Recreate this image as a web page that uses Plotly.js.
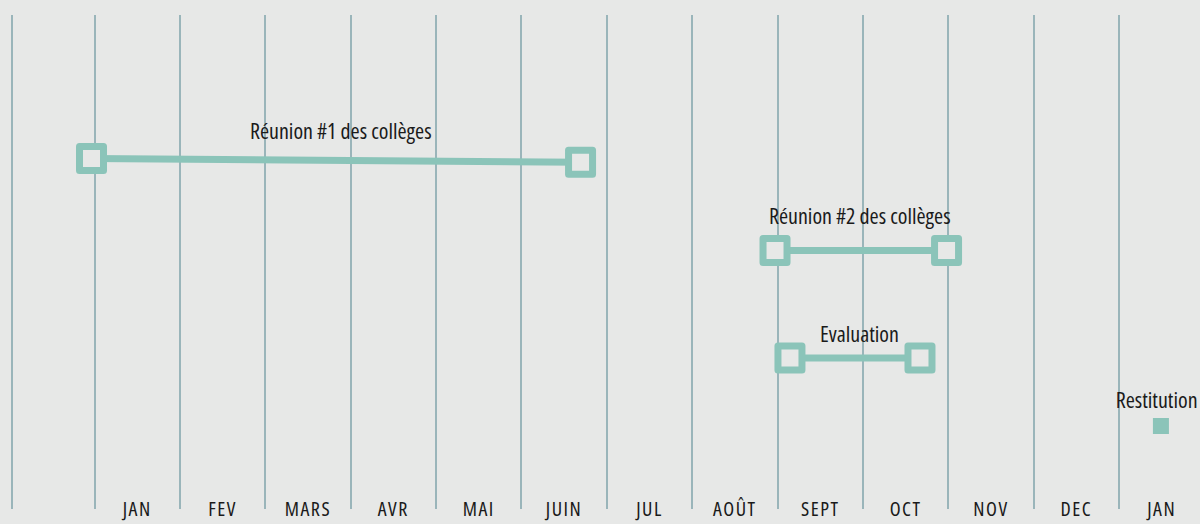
<!DOCTYPE html>
<html>
<head>
<meta charset="utf-8">
<script src="https://cdn.plot.ly/plotly-3.0.1.min.js"></script>
<style>
html,body{margin:0;padding:0;background:#e7e8e7;}
#chart{width:1200px;height:524px;}
#chart text.annotation-text, #chart .x2tick text{font-stretch:condensed;}
#chart .x2tick text{letter-spacing:1.5px;}
#chart .scatterlayer path.point{stroke-linejoin:round;}
</style>
</head>
<body>
<div id="chart"></div>
<script>
// month boundaries (0 = start of JAN); first line is the end of the previous period
const gridLines = [-0.966, 0, 1, 2, 3, 4, 5, 6, 7, 8, 9, 10, 11, 12];
const monthCenters = [0.5, 1.5, 2.5, 3.5, 4.5, 5.5, 6.5, 7.5, 8.5, 9.5, 10.5, 11.5, 12.5];
const monthLabels = ["JAN", "FEV", "MARS", "AVR", "MAI", "JUIN", "JUL", "AOÛT", "SEPT", "OCT", "NOV", "DEC", "JAN"];

// tasks
const taskNames = ["Réunion #1 des collèges", "Réunion #2 des collèges", "Evaluation"];
const taskStart = [-0.035, 7.971, 8.146];
const taskEnd = [5.693, 9.980, 9.669];
const taskRowStart = [70.95, 52.33, 30.57];
const taskRowEnd = [70.18, 52.33, 30.57];
const taskLabelX = [2.887, 8.966, 8.955];
const taskLabelY = [76.7, 59.5, 35.6];

// single-point milestone
const milestoneName = "Restitution";
const milestoneX = [12.491];
const milestoneY = [16.8];
const milestoneLabelX = [12.44];
const milestoneLabelY = [22.3];

const teal = "#8bc4b9";
const bg = "#e7e8e7";
const font = '"Open Sans", "DejaVu Sans", sans-serif';

const traces = [];
taskNames.forEach((n, i) => {
  traces.push({
    type: "scatter", mode: "lines+markers", name: n,
    x: [taskStart[i], taskEnd[i]], y: [taskRowStart[i], taskRowEnd[i]],
    line: {color: teal, width: 7},
    marker: {symbol: "square", size: 24, color: bg, line: {color: teal, width: 7}},
    hoverinfo: "skip", cliponaxis: false
  });
});
traces.push({
  type: "scatter", mode: "markers", name: milestoneName,
  x: milestoneX, y: milestoneY,
  marker: {symbol: "square", size: 16, color: teal},
  hoverinfo: "skip", cliponaxis: false
});
// invisible trace to activate the label axis
traces.push({type: "scatter", x: monthCenters, y: monthCenters.map(() => 0), xaxis: "x2", mode: "none", hoverinfo: "skip", showlegend: false});

const annotations = taskNames.map((n, i) => ({
  text: n, x: taskLabelX[i], y: taskLabelY[i], xref: "x", yref: "y",
  showarrow: false, xanchor: "center", yanchor: "middle",
  font: {family: font, size: 22, color: "#1a1a1a"}
}));
annotations.push({
  text: milestoneName, x: milestoneLabelX[0], y: milestoneLabelY[0], xref: "x", yref: "y",
  showarrow: false, xanchor: "center", yanchor: "middle", borderpad: 0,
  font: {family: font, size: 22, color: "#1a1a1a"}
});

const xRange = [-1.1069, 12.9488];
const layout = {
  width: 1200, height: 524,
  paper_bgcolor: bg, plot_bgcolor: bg,
  margin: {l: 0, r: 0, t: 15, b: 0},
  showlegend: false,
  xaxis: {
    range: xRange, tickvals: gridLines, showticklabels: false,
    showgrid: true, gridcolor: "#9ab5ba", gridwidth: 2,
    zeroline: false, showline: false, ticks: "", fixedrange: true
  },
  xaxis2: {
    range: xRange, overlaying: "x", anchor: "free", position: 0.056, side: "bottom",
    tickvals: monthCenters, ticktext: monthLabels,
    showgrid: false, zeroline: false, showline: false, ticks: "",
    tickfont: {family: font, size: 20, color: "#1a1a1a"}, fixedrange: true
  },
  yaxis: {
    range: [0, 100], domain: [0.0295, 1],
    showgrid: false, zeroline: false, showticklabels: false, ticks: "", fixedrange: true
  },
  annotations: annotations
};

Plotly.newPlot("chart", traces, layout, {displayModeBar: false, staticPlot: true});
</script>
</body>
</html>
